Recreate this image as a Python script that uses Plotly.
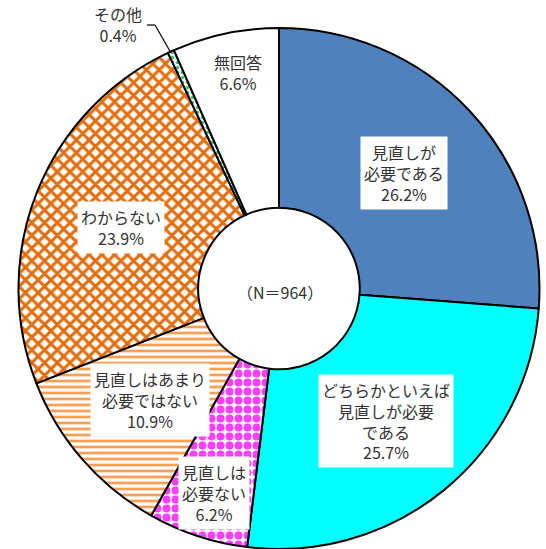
import plotly.graph_objects as go

categories = ["見直しが必要である", "どちらかといえば見直しが必要である", "見直しは必要ない",
              "見直しはあまり必要ではない", "わからない", "その他", "無回答"]
values = [26.2, 25.7, 6.2, 10.9, 23.9, 0.4, 6.6]
label_texts = ["見直しが<br>必要である<br>26.2%",
               "どちらかといえば<br>見直しが必要<br>である<br>25.7%",
               "見直しは<br>必要ない<br>6.2%",
               "見直しはあまり<br>必要ではない<br>10.9%",
               "わからない<br>23.9%",
               "その他<br>0.4%",
               "無回答<br>6.6%"]
center_text = "（N＝964）"

W, H = 546, 549
fill_colors = ["#4F81BD", "#00FFFF", "#FFFFFF", "#FFFFFF", "#FFFFFF", "#FFFFFF", "#FFFFFF"]
pat_shapes = ["", "", ".", "-", "x", ".", ""]
pat_fg = ["#4F81BD", "#00FFFF", "#FF3FFF", "#F9A055", "#E46C0A", "#33CC66", "#FFFFFF"]
pat_size = [8, 8, 9, 6, 9, 5, 8]
pat_sol = [0.3, 0.3, 0.62, 0.45, 0.55, 0.4, 0.3]

FONT = "Noto Sans CJK JP"

def px(x, y):
    return x / W, 1 - y / H

fig = go.Figure()
fig.add_trace(go.Pie(
    labels=categories, values=values, sort=False, direction="clockwise", rotation=0,
    hole=0.31, textinfo="none", hoverinfo="label+percent",
    marker=dict(colors=fill_colors, line=dict(color="black", width=2),
                pattern=dict(shape=pat_shapes, fgcolor=pat_fg, bgcolor=fill_colors,
                             size=pat_size, solidity=pat_sol, fgopacity=1,
                             fillmode="overlay")),
    domain=dict(x=[18 / W, 540 / W], y=[0, 1 - 28 / H]),
    showlegend=False,
))

label_pos = [(404, 173), (386, 421), (214, 493), (150, 400), (121, 227), (118, 25), (238, 72)]
annotations = []
for i, (t, (x, y)) in enumerate(zip(label_texts, label_pos)):
    xp, yp = px(x, y)
    bg = "rgba(0,0,0,0)" if i == 5 else "white"
    annotations.append(dict(x=xp, y=yp, xref="paper", yref="paper", text=t, showarrow=False,
                            xanchor="center", yanchor="middle",
                            font=dict(family=FONT, size=16, color="#333333"),
                            bgcolor=bg, borderpad=3 if i != 5 else 0, align="center"))
xp, yp = px(280, 292)
annotations.append(dict(x=xp, y=yp, xref="paper", yref="paper", text=center_text, showarrow=False,
                        xanchor="center", yanchor="middle",
                        font=dict(family=FONT, size=16, color="#333333")))

shapes = []
pts = [(147, 25), (155, 25), (171, 53)]
for (x0, y0), (x1, y1) in zip(pts[:-1], pts[1:]):
    a0, b0 = px(x0, y0)
    a1, b1 = px(x1, y1)
    shapes.append(dict(type="line", xref="paper", yref="paper", x0=a0, y0=b0, x1=a1, y1=b1,
                       line=dict(color="black", width=1.2)))

fig.update_layout(width=W, height=H, margin=dict(l=0, r=0, t=0, b=0),
                  paper_bgcolor="white", plot_bgcolor="white",
                  annotations=annotations, shapes=shapes)
fig.write_html("out.html", config={"displayModeBar": False},
               post_script="document.body.style.margin='0';document.body.style.overflow='hidden';")
